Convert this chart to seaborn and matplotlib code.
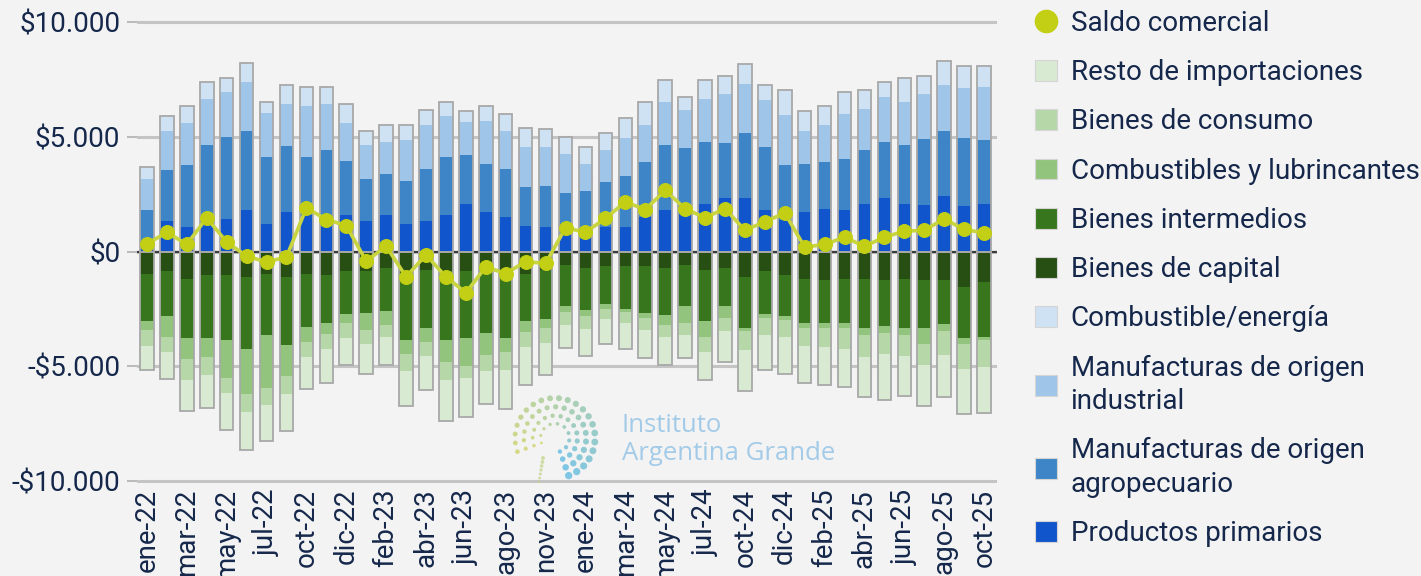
import numpy as np
import matplotlib
matplotlib.use("Agg")
import matplotlib.pyplot as plt
import seaborn as sns
from matplotlib.lines import Line2D
from matplotlib.patches import Patch
from matplotlib.ticker import FuncFormatter

# ---------------- data ----------------
months = ["ene-22","feb-22","mar-22","abr-22","may-22","jun-22","jul-22","sep-22","oct-22","nov-22","dic-22",
          "ene-23","feb-23","mar-23","abr-23","may-23","jun-23","jul-23","ago-23","oct-23","nov-23","dic-23",
          "ene-24","feb-24","mar-24","abr-24","may-24","jun-24","jul-24","sep-24","oct-24","nov-24","dic-24",
          "ene-25","feb-25","mar-25","abr-25","may-25","jun-25","jul-25","ago-25","sep-25","oct-25"]

# exports (USD millones)
productos_primarios = [400,1350,1060,1540,1420,1800,1220,1730,1580,1580,1580,
                       1350,1580,1220,1350,1580,2050,1730,1510,1130,1060,
                       840,810,1060,1060,1510,1800,2050,2050,2340,2340,1800,
                       1370,1730,1870,1800,2090,2340,2090,2020,2410,1980,2090]
moa = [1400,2180,2690,3090,3570,3440,2900,2850,2540,2830,2380,
       1820,1800,1870,2250,2540,2150,2090,2090,1660,1800,
       1710,1820,1950,2250,2380,2830,2440,2730,2370,2830,2760,
       2380,2090,2020,2250,2320,2440,2540,2900,2830,2950,2790]
moi = [1340,1710,1860,2020,1950,2160,1930,1860,2240,2020,1640,
       1470,1390,1790,1930,1800,1440,1870,1640,1770,1700,
       1710,1190,1410,1640,1640,1870,1660,1870,2160,2150,2020,
       2180,1420,1640,1950,1800,1950,1870,1960,2000,2180,2290]
combustible_energia = [550,650,730,730,610,810,470,830,800,730,830,
                       610,760,650,650,580,480,640,760,810,760,
                       730,730,760,870,990,960,580,810,770,830,670,
                       1100,870,800,940,810,670,1050,760,1050,970,900]

# imports (USD millones, magnitudes)
bienes_capital = [960,870,1180,1030,1030,1100,960,1100,960,1030,870,
                  870,730,960,800,870,870,870,870,960,800,
                  580,730,650,650,650,730,580,800,730,1100,870,
                  1030,1180,1250,1180,1180,1250,1180,1250,1250,1550,1340]
bienes_intermedios = [2080,1950,2610,2760,2830,3140,2690,2990,2320,2080,1870,
                      1800,1860,2900,2530,2990,2920,2700,2920,2080,2160,
                      1800,1800,1640,1870,2020,2020,1800,2240,1660,2220,1870,
                      1790,1930,1860,1930,2150,2000,2150,2080,1930,2240,2380]
combustibles_lubricantes = [360,900,890,810,1640,1990,2310,1340,650,470,360,
                            760,600,600,610,960,1180,960,600,470,390,
                            260,290,230,120,220,440,730,680,510,150,170,
                            150,220,220,220,320,320,320,680,290,220,150]
bienes_consumo = [700,670,900,760,680,770,740,760,670,670,680,
                  580,540,760,600,760,540,680,760,650,650,
                  580,540,440,470,540,540,540,670,580,830,730,
                  760,770,830,920,960,890,890,920,1060,1100,1180]
resto_importaciones = [1070,1160,1380,1480,1610,1630,1540,1610,1410,1480,1160,
                       1320,1230,1530,1480,1790,1700,1450,1700,1640,1380,
                       1000,1180,1090,1160,1210,1210,1000,1220,1340,1790,1530,
                       1600,1630,1640,1670,1740,1990,1770,1820,1800,1990,1990]

saldo_comercial = [330,840,310,1470,410,-200,-460,-240,1900,1390,1130,
                   -420,230,-1100,-150,-1100,-1800,-670,-960,-440,-520,
                   1030,840,1440,2160,1830,2660,1870,1470,1870,930,1290,
                   1680,190,310,620,230,620,890,920,1420,960,810]

yticks = [-10000, -5000, 0, 5000, 10000]

# ---------------- style ----------------
BG = "#f3f3f3"
TXT = "#15284b"
FS = 20
sns.set_theme(style="white")
plt.rcParams["font.family"] = ["Roboto", "DejaVu Sans"]

export_layers = [
    ("Productos primarios", productos_primarios, "#1155cc"),
    ("Manufacturas de origen\nagropecuario", moa, "#3d85c6"),
    ("Manufacturas de origen\nindustrial", moi, "#9fc5e8"),
    ("Combustible/energía", combustible_energia, "#cfe2f3"),
]
import_layers = [
    ("Bienes de capital", bienes_capital, "#274e13"),
    ("Bienes intermedios", bienes_intermedios, "#38761d"),
    ("Combustibles y lubrincantes", combustibles_lubricantes, "#93c47d"),
    ("Bienes de consumo", bienes_consumo, "#b6d7a8"),
    ("Resto de importaciones", resto_importaciones, "#d9ead3"),
]
SALDO_C = "#c2cf14"
SALDO_L = "#c8d440"

fig = plt.figure(figsize=(14.21, 5.76), dpi=100, facecolor=BG)
W, H = 1421, 576
top_px, bot_px = 19.7, 483.3
ax = fig.add_axes([137 / W, 1 - bot_px / H, (997 - 137) / W, (bot_px - top_px) / H])
ax.set_facecolor(BG)

x = np.arange(len(months))
bw = 0.68

bottom = np.zeros(len(x))
for name, vals, col in export_layers:
    v = np.array(vals, dtype=float)
    ax.bar(x, v, bottom=bottom, width=bw, color=col, linewidth=0, zorder=2)
    bottom += v
ax.bar(x, bottom, width=bw, fill=False, edgecolor="#a8a8a8", linewidth=1.3, zorder=3)

bottom = np.zeros(len(x))
for name, vals, col in import_layers:
    v = np.array(vals, dtype=float)
    ax.bar(x, -v, bottom=-bottom, width=bw, color=col, linewidth=0, zorder=2)
    bottom += v
ax.bar(x, -bottom, width=bw, fill=False, edgecolor="#a8a8a8", linewidth=1.3, zorder=3)

sns.lineplot(x=x, y=saldo_comercial, ax=ax, color=SALDO_L, linewidth=2.6,
             marker="o", markersize=10, markerfacecolor=SALDO_C,
             markeredgecolor=SALDO_C, legend=False, zorder=6)

ax.set_xlim(-0.5, 42.65)
ax.set_ylim(-10100, 10100)
ax.set_yticks(yticks)
ax.yaxis.set_major_formatter(FuncFormatter(
    lambda v, p: ("-" if v < 0 else "") + "$" + f"{abs(v):,.0f}".replace(",", ".")))
ax.yaxis.grid(True, color="#c4c4c4", linewidth=2.2, zorder=0)
ax.xaxis.grid(False)
ax.set_axisbelow(True)
ax.axhline(0, color="#3c3c3c", linewidth=1.6, zorder=1)
ax.set_xticks(x[::2])
ax.set_xticklabels(months[::2], rotation=90)
ax.tick_params(axis="x", length=0, pad=4, labelsize=FS, labelcolor=TXT)
ax.tick_params(axis="y", length=7, width=1.2, color="#b0b0b0", pad=5,
               labelsize=FS, labelcolor=TXT, left=True)
for s in ax.spines.values():
    s.set_visible(False)
ax.set_xlabel("")
ax.set_ylabel("")

# ---------------- watermark ----------------
fig.text(622 / W, 1 - 425 / H, "Instituto", color="#a3cbe8", fontsize=18.5,
         family=["Open Sans", "DejaVu Sans"], va="center", ha="left")
fig.text(622 / W, 1 - 453 / H, "Argentina Grande", color="#a3cbe8", fontsize=18.5,
         family=["Open Sans", "DejaVu Sans"], va="center", ha="left")
lax = fig.add_axes([505 / W, 1 - 488 / H, 100 / W, 100 / H])
lax.set_xlim(-1.25, 1.25)
lax.set_ylim(-1.25, 1.25)
lax.axis("off")
lax.patch.set_alpha(0)
rings = [(1.0, 22, 28), (0.78, 18, 22), (0.56, 14, 16), (0.36, 10, 10)]
for r, n, sz in rings:
    ang = np.linspace(np.deg2rad(-70), np.deg2rad(200), n)
    frac = np.linspace(0, 1, n)
    cols = [(0.35 + 0.45 * f, 0.72 + 0.1 * f, 0.88 - 0.5 * f, 0.75) for f in frac]
    lax.scatter(r * np.cos(ang), r * np.sin(ang), s=sz * (0.4 + 0.6 * (1 - frac)),
                c=cols, linewidths=0)
tail = np.linspace(0, 1, 7)
lax.scatter(-0.3 - 0.1 * tail, -0.5 - 0.6 * tail, s=8 * (1 - 0.6 * tail),
            c=[(0.75, 0.82, 0.5, 0.7)] * 7, linewidths=0)

# ---------------- legend ----------------
handles = [Line2D([], [], marker="o", color="none", markerfacecolor=SALDO_C,
                  markeredgecolor=SALDO_C, markersize=16)]
labels = ["Saldo comercial"]
for name, vals, col in reversed(import_layers):
    handles.append(Patch(facecolor=col, edgecolor="#d4d4d4", linewidth=0.8))
    labels.append(name)
for name, vals, col in reversed(export_layers):
    handles.append(Patch(facecolor=col, edgecolor="#d4d4d4", linewidth=0.8))
    labels.append(name)
leg = fig.legend(handles, labels, loc="upper left", bbox_to_anchor=(1035 / W, 1 - 10 / H),
                 frameon=False, fontsize=FS, labelcolor=TXT, handlelength=0.78,
                 handleheight=0.78, handletextpad=0.5, labelspacing=0.8,
                 borderaxespad=0, borderpad=0)
for t in leg.get_texts():
    t.set_linespacing(1.3)

fig.savefig("out.png", dpi=100, facecolor=BG)
